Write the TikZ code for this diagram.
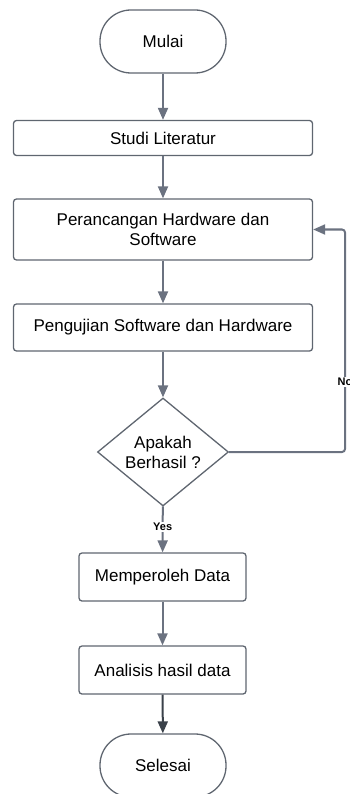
\documentclass[tikz,border=0pt]{standalone}
\usepackage{fontspec}
\setmainfont{Liberation Sans}
\usetikzlibrary{arrows.meta,shapes.geometric}
\definecolor{edge}{HTML}{6B7280}
\definecolor{rim}{HTML}{5F6670}
\definecolor{darkedge}{HTML}{3A414A}

\begin{document}
\begin{tikzpicture}[x=1pt,y=-1pt,
  every node/.style={font=\fontsize{17}{20}\selectfont, inner sep=0pt, align=center},
  terminal/.style={draw=rim, line width=1.3pt, rounded corners=31pt, minimum width=126pt, minimum height=63pt},
  process/.style={draw=rim, line width=1.3pt, rounded corners=3pt, minimum height=35pt},
  decision/.style={draw=rim, line width=1.3pt, diamond, aspect=1.21, minimum width=131pt, minimum height=108pt},
  flow/.style={draw=edge, line width=2pt, -{Triangle[width=10pt,length=12pt]}},
  lbl/.style={font=\bfseries\fontsize{11}{13}\selectfont, fill=white, inner sep=1pt}]
  \useasboundingbox (0,0) rectangle (350,794);

  \node[terminal] (mulai) at (163,41.5) {Mulai};
  \node[process, minimum width=299pt] (studi) at (163,138) {Studi Literatur};
  \node[process, minimum width=299pt, minimum height=61pt] (rancang) at (163,229.5) {Perancangan Hardware dan\\Software};
  \node[process, minimum width=299pt, minimum height=47pt] (uji) at (163,327.5) {Pengujian Software dan Hardware};
  \node[decision] (cek) at (163,452) {Apakah\\Berhasil ?};
  \node[process, minimum width=167pt, minimum height=48pt] (data) at (162.5,577) {Memperoleh Data};
  \node[process, minimum width=167pt, minimum height=48pt] (analisis) at (162.5,670) {Analisis hasil data};
  \node[terminal] (selesai) at (163,765.5) {Selesai};
  \coordinate (balik) at (345,452);

  \draw[flow] (mulai) -- (studi);
  \draw[flow] (studi) -- (rancang);
  \draw[flow] (rancang) -- (uji);
  \draw[flow] (uji) -- (cek);
  \draw[flow] (cek) -- node[lbl, pos=0.45] {Yes} (data);
  \draw[flow] (data) -- (analisis);
  \draw[flow, draw=darkedge] (analisis) -- (selesai);
  \draw[flow, rounded corners=3pt] (cek.east) -- (balik) |- (rancang.east);
  \node[lbl] (no) at (345,382) {No};
\end{tikzpicture}
\end{document}
